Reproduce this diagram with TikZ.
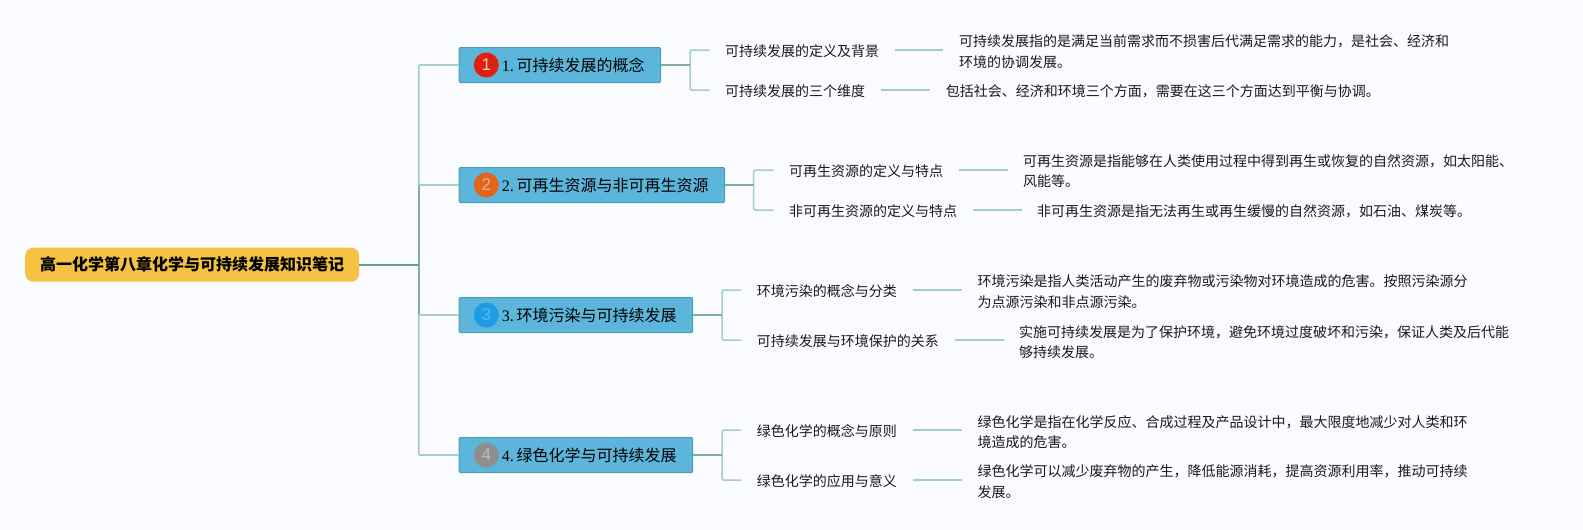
\documentclass[tikz,border=0pt]{standalone}
\usepackage{fontspec}
\setmainfont{Noto Sans CJK SC}
\newfontfamily\numfont{Liberation Serif}
\newfontfamily\iconfont{Liberation Sans}
\definecolor{bgc}{HTML}{FAFBFF}
\definecolor{rootfill}{HTML}{F6C244}
\definecolor{boxfill}{HTML}{5CB6DB}
\definecolor{boxedge}{HTML}{4F9CA8}
\definecolor{lightln}{HTML}{A6CCC6}
\definecolor{midln}{HTML}{7DADA3}
\definecolor{darkln}{HTML}{5F9E90}
\definecolor{inkc}{HTML}{1A1A1A}
\definecolor{ic1}{HTML}{E0200F}
\definecolor{ic2}{HTML}{E4651A}
\definecolor{ic3}{HTML}{1E9DE5}
\definecolor{ic4}{HTML}{8E8E8E}
\definecolor{it1}{HTML}{F4C8C0}
\definecolor{it2}{HTML}{D8B898}
\definecolor{it3}{HTML}{5BB8EA}
\definecolor{it4}{HTML}{BDBDBD}
\tikzset{
  rootbox/.style={draw=none,fill=rootfill,rounded corners=8pt,inner xsep=15pt,inner ysep=0pt,minimum height=34pt,anchor=west,text=black,font=\fontsize{16}{20}\selectfont\bfseries},
  branchbox/.style={draw=boxedge,line width=1pt,fill=boxfill,rounded corners=1.2pt,inner xsep=16pt,inner ysep=0pt,minimum height=35pt,anchor=west,text=black,font=\fontsize{16}{20}\selectfont},
  icon/.style={circle,inner sep=0pt,minimum size=25pt,font=\iconfont\fontsize{17}{20}\selectfont},
  sublabel/.style={inner xsep=15.5pt,inner ysep=0pt,text height=14pt,text depth=1pt,anchor=west,text=inkc,font=\fontsize{14}{20}\selectfont},
  detail/.style={inner xsep=15.5pt,inner ysep=0pt,anchor=west,align=left,text=inkc,font=\fontsize{14}{20.4}\selectfont},
  thinln/.style={draw=lightln,line width=1.5pt},
  bracket/.style={draw=lightln,line width=1.5pt,rounded corners=1.5pt},
  stemln/.style={draw=midln,line width=1.7pt},
  trunklight/.style={draw=lightln,line width=1.7pt},
  trunkmid/.style={draw=midln,line width=1.7pt},
  trunkdark/.style={draw=darkln,line width=2pt}
}
\newcommand{\nm}[1]{\hspace*{26.6pt}{\numfont\spaceskip=1.6pt #1. }}
\begin{document}
\begin{tikzpicture}[x=1pt,y=-1pt]
\fill[bgc] (0,0) rectangle (1583,530);
\useasboundingbox (0,0) rectangle (1583,530);
% root
\node[rootbox] (root) at (25,264.7) {高一化学第八章化学与可持续发展知识笔记};
\coordinate (tj) at (418.7,264.7);
% branches
\node[branchbox] (b1) at (458.7,65) {\nm{1}可持续发展的概念};
\node[branchbox] (b2) at (458.7,185) {\nm{2}可再生资源与非可再生资源};
\node[branchbox] (b3) at (458.7,315) {\nm{3}环境污染与可持续发展};
\node[branchbox] (b4) at (458.7,455) {\nm{4}绿色化学与可持续发展};
% icons
\node[icon,fill=ic1,text=it1] (i1) at ([xshift=27.6pt]b1.west) {1};
\node[icon,fill=ic2,text=it2] (i2) at ([xshift=27.6pt]b2.west) {2};
\node[icon,fill=ic3,text=it3] (i3) at ([xshift=27.6pt]b3.west) {3};
\node[icon,fill=ic4,text=it4] (i4) at ([xshift=27.6pt]b4.west) {4};
% sub labels
\node[sublabel] (s11) at (709.5,50) {可持续发展的定义及背景};
\node[sublabel] (s12) at (709.5,90) {可持续发展的三个维度};
\node[sublabel] (s21) at (773.5,170) {可再生资源的定义与特点};
\node[sublabel] (s22) at (773.5,210) {非可再生资源的定义与特点};
\node[sublabel] (s31) at (741.2,290) {环境污染的概念与分类};
\node[sublabel] (s32) at (741.2,340) {可持续发展与环境保护的关系};
\node[sublabel] (s41) at (741.2,430) {绿色化学的概念与原则};
\node[sublabel] (s42) at (741.2,480) {绿色化学的应用与意义};
% details
\node[detail] (d11) at (943.3,51.5) {可持续发展指的是满足当前需求而不损害后代满足需求的能力，是社会、经济和\\环境的协调发展。};
\node[sublabel] (d12) at (930.2,90) {包括社会、经济和环境三个方面，需要在这三个方面达到平衡与协调。};
\node[detail] (d21) at (1007.5,171.3) {可再生资源是指能够在人类使用过程中得到再生或恢复的自然资源，如太阳能、\\风能等。};
\node[sublabel] (d22) at (1021.5,210) {非可再生资源是指无法再生或再生缓慢的自然资源，如石油、煤炭等。};
\node[detail] (d31) at (961.8,291.6) {环境污染是指人类活动产生的废弃物或污染物对环境造成的危害。按照污染源分\\为点源污染和非点源污染。};
\node[detail] (d32) at (1003.5,342) {实施可持续发展是为了保护环境，避免环境过度破坏和污染，保证人类及后代能\\够持续发展。};
\node[detail] (d41) at (961.8,432) {绿色化学是指在化学反应、合成过程及产品设计中，最大限度地减少对人类和环\\境造成的危害。};
\node[detail] (d42) at (961.8,481.5) {绿色化学可以减少废弃物的产生，降低能源消耗，提高资源利用率，推动可持续\\发展。};
% trunk
\draw[trunklight,rounded corners=1.5pt] (b1.west) -- (b1.west -| tj) -- (b2.west -| tj);
\draw[trunkmid] (b2.west -| tj) -- (tj);
\draw[trunkmid] (tj) -- (b3.west -| tj);
\draw[trunklight] (b2.west -| tj) -- (b2.west);
\draw[trunklight] (b3.west -| tj) -- (b3.west);
\draw[trunklight,rounded corners=1.5pt] (b3.west -| tj) -- (b4.west -| tj) -- (b4.west);
\draw[trunkdark] (root.east) -- (tj);
% brackets
\coordinate (x1) at (690,65);
\coordinate (x2) at (753.7,185);
\coordinate (x3) at (722,315);
\coordinate (x4) at (722,455);
\foreach \b/\u/\l/\x in {b1/s11/s12/x1,b2/s21/s22/x2,b3/s31/s32/x3,b4/s41/s42/x4}{
  \draw[bracket] (\u.west) -- (\u.west -| \x) -- (\l.west -| \x) -- (\l.west);
  \draw[stemln] (\b.east) -- (\b.east -| \x);
}
% leaf lines
\foreach \s/\d in {s11/d11,s12/d12,s21/d21,s22/d22,s31/d31,s32/d32,s41/d41,s42/d42}{
  \draw[thinln] (\s.east) -- (\s.east -| \d.west);
}
\end{tikzpicture}
\end{document}
